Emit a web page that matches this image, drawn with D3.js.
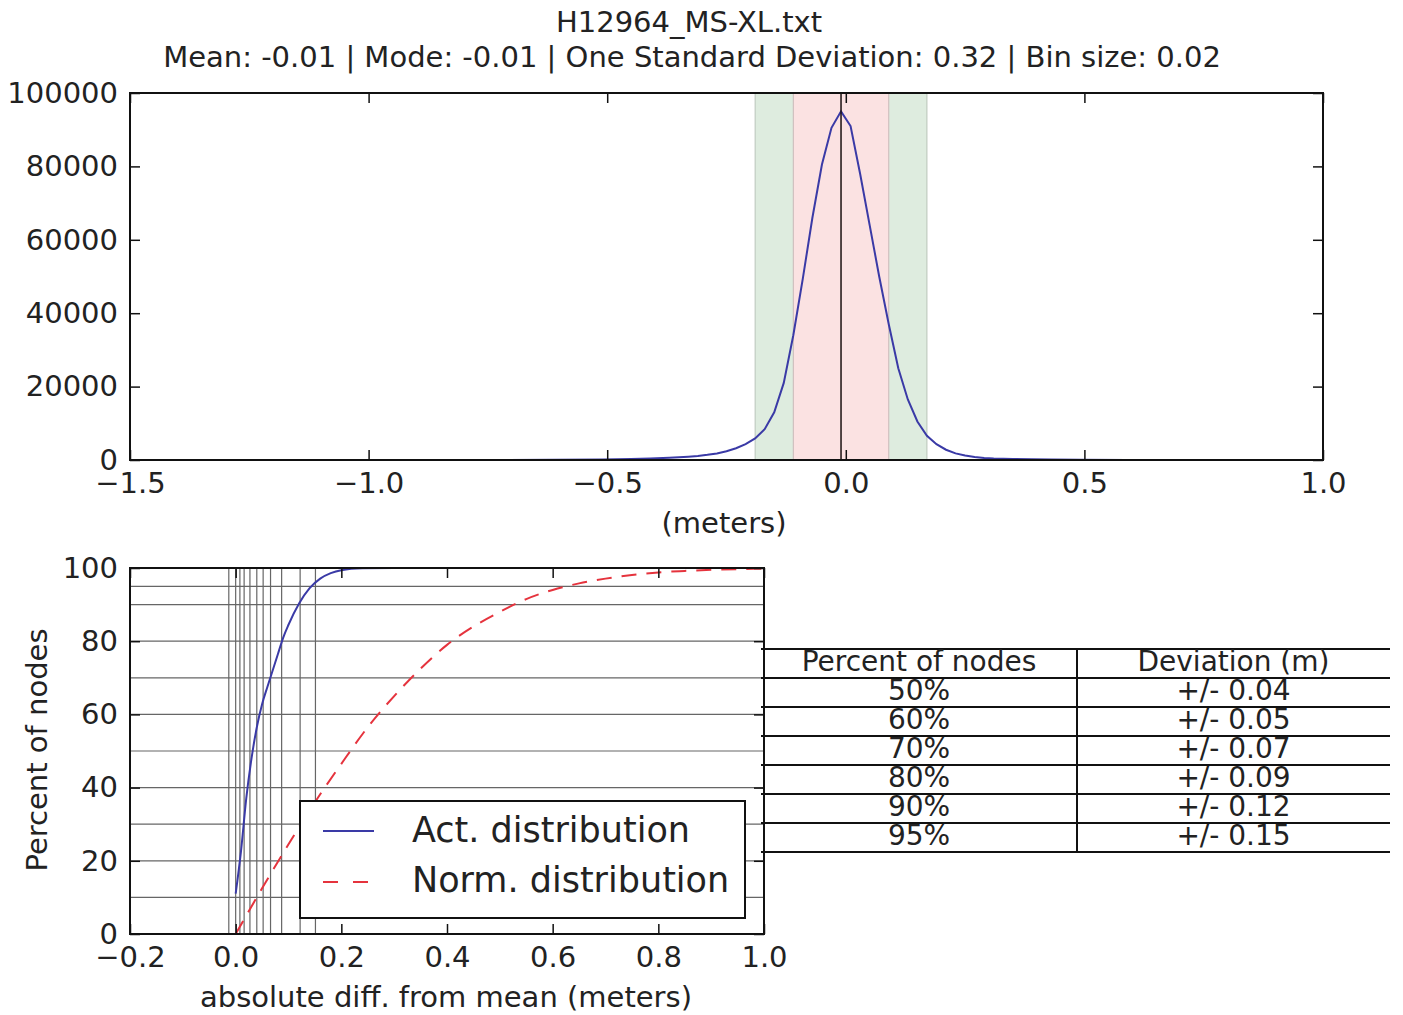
<!DOCTYPE html>
<html>
<head>
<meta charset="utf-8">
<script src="https://cdn.jsdelivr.net/npm/d3@7/dist/d3.min.js"></script>
<style>
  body { margin: 0; background: #fff; }
  text { font-family: "DejaVu Sans", sans-serif; fill: #222; }
</style>
</head>
<body>
<svg id="chart" width="1403" height="1015"></svg>
<script>
// title text
var fileName = "H12964_MS-XL.txt";
var statsLine = "Mean: -0.01 | Mode: -0.01 | One Standard Deviation: 0.32 | Bin size: 0.02";

// histogram (bin centre in meters, node count)
var binCenters = [-1.49, -0.71, -0.61, -0.51, -0.45, -0.41, -0.37, -0.33, -0.31, -0.29, -0.27, -0.25,
    -0.23, -0.21, -0.19, -0.17, -0.15, -0.13, -0.11, -0.09, -0.07, -0.05, -0.03, -0.01,
    0.01, 0.03, 0.05, 0.07, 0.09, 0.11, 0.13, 0.15, 0.17, 0.19, 0.21, 0.23, 0.25, 0.27,
    0.29, 0.31, 0.35, 0.39, 0.43, 0.49, 0.59, 0.69, 0.99];
var binCounts = [0, 30, 60, 110, 250, 380, 600, 900, 1100, 1400, 1800, 2400,
    3200, 4300, 5900, 8400, 13000, 21000, 34000, 49500, 66000, 80500, 90500, 95000,
    91000, 78000, 64000, 50000, 37000, 25000, 16500, 10500, 6600, 4300, 2800, 1800, 1200, 800,
    550, 420, 280, 180, 120, 70, 30, 15, 0];
var meanValue = -0.01;
var innerBand = [-0.11, 0.09];
var outerBand = [-0.19, 0.17];
var topXTicks = [-1.5, -1.0, -0.5, 0.0, 0.5, 1.0];
var topYTicks = [0, 20000, 40000, 60000, 80000, 100000];

// cumulative curves (abs diff from mean, percent of nodes)
var actDiff = [0, 0.01, 0.02, 0.03, 0.04, 0.05, 0.06, 0.07, 0.08, 0.09, 0.10, 0.12, 0.14,
    0.16, 0.18, 0.20, 0.24, 0.30, 1.0];
var actPct = [11, 22.5, 37, 48, 56.5, 62.8, 67.5, 72, 76.5, 81, 84.5, 90.3, 94.5,
    97.1, 98.6, 99.4, 99.9, 100, 100];
var normDiff = [0, 0.05, 0.1, 0.15, 0.2, 0.25, 0.3, 0.35, 0.4, 0.45, 0.5, 0.55, 0.6, 0.65,
    0.7, 0.75, 0.8, 0.85, 0.9, 0.95, 1.0];
var normPct = [0, 12.5, 24.5, 36, 46.5, 56.5, 65, 72.5, 79, 84, 88, 91.5, 94, 95.8,
    97.1, 98.1, 98.8, 99.2, 99.5, 99.7, 99.8];

// reference lines on the cumulative plot
var gridPct = [0, 10, 20, 30, 40, 50, 60, 70, 80, 90, 95];
var gridDiff = [-0.013, 0.0, 0.008, 0.016, 0.027, 0.04, 0.052, 0.066, 0.087, 0.122, 0.151];
var botXTicks = [-0.2, 0.0, 0.2, 0.4, 0.6, 0.8, 1.0];
var botYTicks = [0, 20, 40, 60, 80, 100];

// table
var tableHeader = ["Percent of nodes", "Deviation (m)"];
var tablePct = ["50%", "60%", "70%", "80%", "90%", "95%"];
var tableDev = ["+/- 0.04", "+/- 0.05", "+/- 0.07", "+/- 0.09", "+/- 0.12", "+/- 0.15"];

var svg = d3.select("#chart");
var fs = 29;

// titles
svg.append("text").attr("x", 689).attr("y", 32).attr("text-anchor", "middle")
    .style("font-size", fs + "px").text(fileName);
svg.append("text").attr("x", 692).attr("y", 67).attr("text-anchor", "middle")
    .style("font-size", fs + "px").text(statsLine);

function styleAxis(g) {
    g.select(".domain").remove();
    g.selectAll("line").attr("stroke", "#111").attr("stroke-width", 1.5);
    g.selectAll("text").style("font-size", fs + "px").attr("fill", "#222");
}

/* ---------- top: histogram ---------- */
var tx = d3.scaleLinear().domain([-1.5, 1.0]).range([130, 1323]);
var ty = d3.scaleLinear().domain([0, 100000]).range([460, 93]);

var histG = svg.append("g");

histG.append("rect")
    .attr("x", tx(outerBand[0])).attr("y", ty(100000))
    .attr("width", tx(outerBand[1]) - tx(outerBand[0])).attr("height", ty(0) - ty(100000))
    .attr("fill", "#deecdf").attr("stroke", "#b9c4b9").attr("stroke-width", 1);
histG.append("rect")
    .attr("x", tx(innerBand[0])).attr("y", ty(100000))
    .attr("width", tx(innerBand[1]) - tx(innerBand[0])).attr("height", ty(0) - ty(100000))
    .attr("fill", "#fbe2e2").attr("stroke", "#c9b9b9").attr("stroke-width", 1);

var histLine = d3.line()
    .x(function(d, i) { return tx(binCenters[i]); })
    .y(function(d) { return ty(d); });

histG.append("path")
    .datum(binCounts)
    .attr("d", histLine)
    .attr("fill", "none")
    .attr("stroke", "#3a3aa6")
    .attr("stroke-width", 2);

histG.append("line")
    .attr("x1", tx(meanValue)).attr("x2", tx(meanValue))
    .attr("y1", ty(100000)).attr("y2", ty(0))
    .attr("stroke", "#1a1010").attr("stroke-width", 1.5);

histG.append("g").attr("transform", "translate(0,460)")
    .call(d3.axisBottom(tx).tickValues(topXTicks).tickFormat(d3.format(".1f"))
        .tickSizeInner(-10).tickSizeOuter(0).tickPadding(12))
    .call(styleAxis);
histG.append("g").attr("transform", "translate(0,93)")
    .call(d3.axisTop(tx).tickValues(topXTicks).tickFormat("").tickSizeInner(-10).tickSizeOuter(0))
    .call(styleAxis);
histG.append("g").attr("transform", "translate(130,0)")
    .call(d3.axisLeft(ty).tickValues(topYTicks).tickFormat(d3.format("d"))
        .tickSizeInner(-10).tickSizeOuter(0).tickPadding(12))
    .call(styleAxis);
histG.append("g").attr("transform", "translate(1323,0)")
    .call(d3.axisRight(ty).tickValues(topYTicks).tickFormat("").tickSizeInner(-10).tickSizeOuter(0))
    .call(styleAxis);

histG.append("rect").attr("x", 130).attr("y", 93).attr("width", 1193).attr("height", 367)
    .attr("fill", "none").attr("stroke", "#111").attr("stroke-width", 2);

histG.append("text").attr("x", 724).attr("y", 533).attr("text-anchor", "middle")
    .style("font-size", fs + "px").text("(meters)");

/* ---------- bottom: cumulative ---------- */
var bx = d3.scaleLinear().domain([-0.2, 1.0]).range([130, 764]);
var by = d3.scaleLinear().domain([0, 100]).range([934, 568]);

var cumG = svg.append("g");

cumG.selectAll("line.hgrid").data(gridPct).enter().append("line")
    .attr("class", "hgrid")
    .attr("x1", 130).attr("x2", 764)
    .attr("y1", function(d) { return by(d); }).attr("y2", function(d) { return by(d); })
    .attr("stroke", "#666").attr("stroke-width", 1.2);
cumG.selectAll("line.vgrid").data(gridDiff).enter().append("line")
    .attr("class", "vgrid")
    .attr("x1", function(d) { return bx(d); }).attr("x2", function(d) { return bx(d); })
    .attr("y1", 568).attr("y2", 934)
    .attr("stroke", "#666").attr("stroke-width", 1.2);

var actLine = d3.line()
    .x(function(d, i) { return bx(actDiff[i]); })
    .y(function(d) { return by(d); })
    .curve(d3.curveMonotoneX);
var normLine = d3.line()
    .x(function(d, i) { return bx(normDiff[i]); })
    .y(function(d) { return by(d); })
    .curve(d3.curveMonotoneX);

cumG.append("path").datum(normPct).attr("d", normLine)
    .attr("fill", "none").attr("stroke", "#e5333d").attr("stroke-width", 2)
    .attr("stroke-dasharray", "15,10");
cumG.append("path").datum(actPct).attr("d", actLine)
    .attr("fill", "none").attr("stroke", "#3a3aa6").attr("stroke-width", 2);

cumG.append("g").attr("transform", "translate(0,934)")
    .call(d3.axisBottom(bx).tickValues(botXTicks).tickFormat(d3.format(".1f"))
        .tickSizeInner(-10).tickSizeOuter(0).tickPadding(12))
    .call(styleAxis);
cumG.append("g").attr("transform", "translate(0,568)")
    .call(d3.axisTop(bx).tickValues(botXTicks).tickFormat("").tickSizeInner(-10).tickSizeOuter(0))
    .call(styleAxis);
cumG.append("g").attr("transform", "translate(130,0)")
    .call(d3.axisLeft(by).tickValues(botYTicks).tickFormat(d3.format("d"))
        .tickSizeInner(-10).tickSizeOuter(0).tickPadding(12))
    .call(styleAxis);
cumG.append("g").attr("transform", "translate(764,0)")
    .call(d3.axisRight(by).tickValues(botYTicks).tickFormat("").tickSizeInner(-10).tickSizeOuter(0))
    .call(styleAxis);

cumG.append("rect").attr("x", 130).attr("y", 568).attr("width", 634).attr("height", 366)
    .attr("fill", "none").attr("stroke", "#111").attr("stroke-width", 2);

cumG.append("text").attr("x", 446).attr("y", 1007).attr("text-anchor", "middle")
    .style("font-size", fs + "px").text("absolute diff. from mean (meters)");
cumG.append("text").attr("transform", "translate(47,750) rotate(-90)").attr("text-anchor", "middle")
    .style("font-size", fs + "px").text("Percent of nodes");

// legend
var legend = cumG.append("g");
legend.append("rect").attr("x", 300).attr("y", 801).attr("width", 445).attr("height", 117)
    .attr("fill", "#fff").attr("stroke", "#111").attr("stroke-width", 2);
legend.append("line").attr("x1", 323).attr("x2", 374).attr("y1", 831).attr("y2", 831)
    .attr("stroke", "#3a3aa6").attr("stroke-width", 2);
legend.append("line").attr("x1", 323).attr("x2", 368).attr("y1", 882).attr("y2", 882)
    .attr("stroke", "#e5333d").attr("stroke-width", 2).attr("stroke-dasharray", "15,15");
legend.append("text").attr("x", 412).attr("y", 842).style("font-size", "35px").text("Act. distribution");
legend.append("text").attr("x", 412).attr("y", 892).style("font-size", "35px").text("Norm. distribution");

/* ---------- table ---------- */
var tbl = svg.append("g");
var tLeft = 761, tMid = 1077, tRight = 1390, tTop = 649, rowH = 29;
var rows = [tableHeader].concat(tablePct.map(function(p, i) { return [p, tableDev[i]]; }));

tbl.selectAll("line.row").data(d3.range(rows.length + 1)).enter().append("line")
    .attr("class", "row")
    .attr("x1", tLeft).attr("x2", tRight)
    .attr("y1", function(i) { return tTop + i * rowH; })
    .attr("y2", function(i) { return tTop + i * rowH; })
    .attr("stroke", "#111").attr("stroke-width", 2);
tbl.append("line").attr("x1", tMid).attr("x2", tMid)
    .attr("y1", tTop).attr("y2", tTop + rows.length * rowH)
    .attr("stroke", "#111").attr("stroke-width", 2);

var rowG = tbl.selectAll("g.trow").data(rows).enter().append("g").attr("class", "trow");
rowG.append("text")
    .attr("x", (tLeft + tMid) / 2)
    .attr("y", function(d, i) { return tTop + i * rowH + 22; })
    .attr("text-anchor", "middle").style("font-size", "28px")
    .text(function(d) { return d[0]; });
rowG.append("text")
    .attr("x", (tMid + tRight) / 2)
    .attr("y", function(d, i) { return tTop + i * rowH + 22; })
    .attr("text-anchor", "middle").style("font-size", "28px")
    .text(function(d) { return d[1]; });
</script>
</body>
</html>
